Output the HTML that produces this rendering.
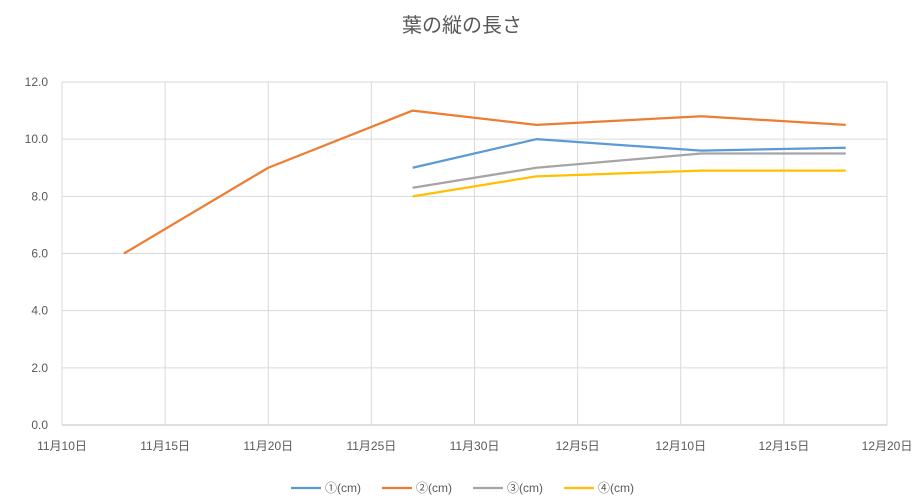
<!DOCTYPE html>
<html><head><meta charset="utf-8"><style>
body{margin:0;background:#fff;}
svg text{font-family:"Liberation Sans","Noto Sans CJK JP",sans-serif;}
</style></head><body>
<svg id="c" width="924" height="498" xmlns="http://www.w3.org/2000/svg">
<rect width="924" height="498" fill="#fff"/>
<text x="462" y="32" text-anchor="middle" font-size="20" fill="#595959">葉の縦の長さ</text>
<g id="grid"></g><g id="axes"></g><g id="series"></g><g id="legend"></g>
</svg>
<script>
const xTickDays = [0,5,10,15,20,25,30,35,40];
const xTickLabels = ["11月10日","11月15日","11月20日","11月25日","11月30日","12月5日","12月10日","12月15日","12月20日"];
const yTicks = [0,2,4,6,8,10,12];
const seriesNames = ["①(cm)","②(cm)","③(cm)","④(cm)"];
const seriesColors = ["#5b9bd5","#ed7d31","#a5a5a5","#ffc000"];
const s1Days = [17,23,31,38];
const s1Vals = [9.0,10.0,9.6,9.7];
const s2Days = [3,10,17,23,31,38];
const s2Vals = [6.0,9.0,11.0,10.5,10.8,10.5];
const s3Days = [17,23,31,38];
const s3Vals = [8.3,9.0,9.5,9.5];
const s4Days = [17,23,31,38];
const s4Vals = [8.0,8.7,8.9,8.9];
const allDays=[s1Days,s2Days,s3Days,s4Days], allVals=[s1Vals,s2Vals,s3Vals,s4Vals];
const NS="http://www.w3.org/2000/svg";
const X0=62,X1=887,Y0=425,Y1=82;
const xs=d=>X0+(X1-X0)*d/40, ys=v=>Y0-(Y0-Y1)*v/12;
function mk(t,a,p){const e=document.createElementNS(NS,t);for(const k in a)e.setAttribute(k,a[k]);p.appendChild(e);return e;}
const g=document.getElementById('grid'),ax=document.getElementById('axes'),se=document.getElementById('series'),lg=document.getElementById('legend');
yTicks.forEach(v=>{
 const l=mk('line',{x1:X0,x2:X1,y1:ys(v),y2:ys(v),stroke:v===0?'#bfbfbf':'#d9d9d9','stroke-width':1},g);
 
 
 const t=mk('text',{x:X0-14,y:ys(v)+4,'text-anchor':'end','font-size':12,fill:'#595959'},ax);
 t.textContent=v.toFixed(1);
 
 
});
xTickDays.forEach((d,i)=>{
 const l=mk('line',{x1:xs(d),x2:xs(d),y1:Y1,y2:Y0,stroke:'#d9d9d9','stroke-width':1},g);
 
 
 const t=mk('text',{x:xs(d),y:Y0+25,'text-anchor':'middle','font-size':12,fill:'#595959'},ax);
 t.textContent=xTickLabels[i];
 
 
});
allDays.forEach((ds,i)=>{
 const pts=ds.map((d,j)=>xs(d)+','+ys(allVals[i][j])).join(' ');
 const p=mk('polyline',{points:pts,fill:'none',stroke:seriesColors[i],'stroke-width':2.25,'stroke-linejoin':'round'},se);
 
 
});
const lx=[291,382,473,564];
seriesNames.forEach((n,i)=>{
 const gr=mk('g',{},lg);
 
 
 mk('line',{x1:lx[i],x2:lx[i]+30,y1:488,y2:488,stroke:seriesColors[i],'stroke-width':2.25},gr);
 const t=mk('text',{x:lx[i]+34,y:492,'font-size':12,fill:'#595959'},gr);
 t.textContent=n;
});
</script>
</body></html>
